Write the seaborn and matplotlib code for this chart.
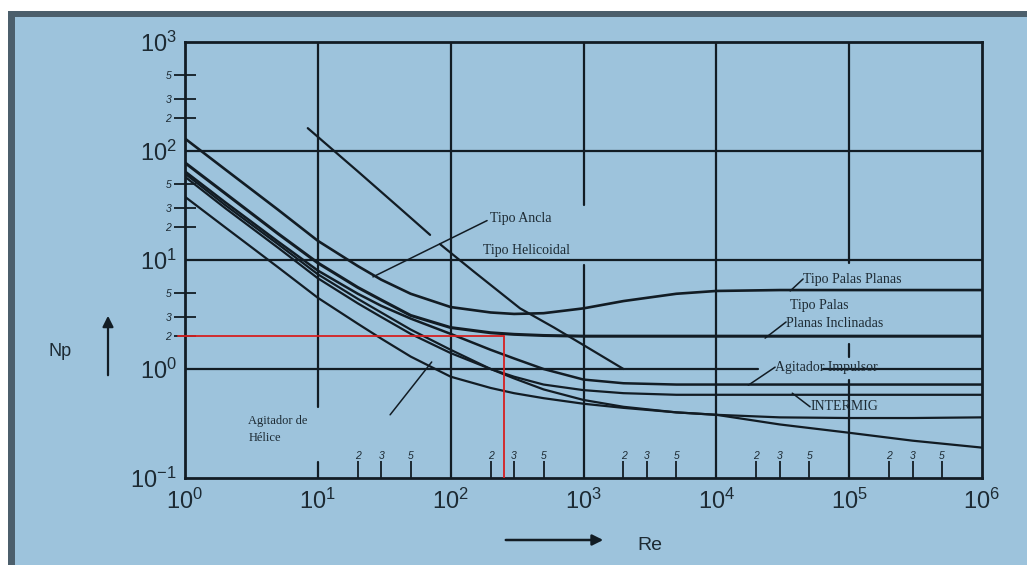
import numpy as np
import pandas as pd
import matplotlib
matplotlib.use("Agg")
import matplotlib.pyplot as plt
from matplotlib.patches import Rectangle
import seaborn as sns

# ---------------- data ----------------
re_pts = [1, 2, 5, 10, 20, 30, 50, 100, 200, 300, 500, 1e3, 2e3, 5e3, 1e4, 3e4, 1e5, 3e5, 1e6]

np_palas_planas = [130, 68, 29, 15, 8.8, 6.6, 4.9, 3.7, 3.3, 3.2, 3.25, 3.6, 4.2, 4.9, 5.2, 5.3, 5.3, 5.3, 5.3]
np_palas_inclinadas = [78, 41, 17.5, 9.4, 5.6, 4.3, 3.1, 2.4, 2.15, 2.08, 2.03, 2.0, 2.0, 2.0, 2.0, 2.0, 2.0, 2.0, 2.0]
np_impulsor = [65, 34, 14.8, 8.0, 4.9, 3.8, 2.9, 2.1, 1.5, 1.25, 1.0, 0.8, 0.74, 0.72, 0.72, 0.72, 0.72, 0.72, 0.72]
np_intermig = [58, 30, 13, 6.8, 4.0, 3.0, 2.1, 1.4, 1.0, 0.85, 0.72, 0.64, 0.60, 0.58, 0.58, 0.58, 0.58, 0.58, 0.58]
np_otro = [62, 32, 14, 7.4, 4.4, 3.3, 2.3, 1.5, 1.0, 0.82, 0.65, 0.52, 0.45, 0.40, 0.38, 0.36, 0.355, 0.355, 0.36]
np_helice = [38, 20, 8.6, 4.5, 2.6, 1.9, 1.3, 0.85, 0.67, 0.60, 0.54, 0.48, 0.44, 0.40, 0.38, 0.31, 0.26, 0.22, 0.19]

re_ancla_a = [8.4, 20, 40, 70]
np_ancla_a = [162, 65, 31, 17]
re_ancla_b = [83, 150, 333, 600, 1050, 2000]
np_ancla_b = [14, 7.8, 3.6, 2.4, 1.6, 1.0]

red_re = 250
red_np = 2.0

x_major = [1, 10, 100, 1e3, 1e4, 1e5, 1e6]
x_major_labels = [r"$10^{0}$", r"$10^{1}$", r"$10^{2}$", r"$10^{3}$", r"$10^{4}$", r"$10^{5}$", r"$10^{6}$"]
y_major = [0.1, 1, 10, 100, 1000]
y_major_labels = [r"$10^{-1}$", r"$10^{0}$", r"$10^{1}$", r"$10^{2}$", r"$10^{3}$"]
y_minor = [2, 3, 5, 20, 30, 50, 200, 300, 500]
y_minor_labels = ["2", "3", "5", "2", "3", "5", "2", "3", "5"]
x_minor = [20, 30, 50, 200, 300, 500, 2e3, 3e3, 5e3, 2e4, 3e4, 5e4, 2e5, 3e5, 5e5]
x_minor_labels = ["2", "3", "5"] * 5

# ---------------- styling ----------------
sns.set_style("ticks")
plt.rcParams["font.family"] = ["Liberation Sans", "DejaVu Sans"]
plt.rcParams["mathtext.fontset"] = "custom"
plt.rcParams["mathtext.rm"] = "Liberation Sans"
plt.rcParams["mathtext.it"] = "Liberation Sans"

BG = "#9dc3dc"
FRAME = "#4c5f6c"
INK = "#121c24"
TXT = "#1d2a33"

fig = plt.figure(figsize=(10.27, 5.65), dpi=100)
fig.patch.set_facecolor("white")
fig.patches.append(Rectangle((8 / 1027, 0), 1, 1 - 11 / 565, transform=fig.transFigure,
                             facecolor=BG, edgecolor="none", zorder=-10))
fig.patches.append(Rectangle((8 / 1027, 0), 7 / 1027, 1 - 11 / 565, transform=fig.transFigure,
                             facecolor=FRAME, edgecolor="none", zorder=-9))
fig.patches.append(Rectangle((8 / 1027, 1 - 17 / 565), 1, 6 / 565, transform=fig.transFigure,
                             facecolor=FRAME, edgecolor="none", zorder=-9))

ax = fig.add_axes([185 / 1027, 1 - 478 / 565, (982 - 185) / 1027, (478 - 42) / 565])
ax.set_facecolor("none")
ax.set_xscale("log")
ax.set_yscale("log")
ax.set_xlim(1, 1e6)
ax.set_ylim(0.1, 1000)

# grid lines (drawn as in the original, with gaps where labels sit)
gkw = dict(color=INK, lw=1.6, zorder=1)
ax.axhline(100, **gkw)
ax.axhline(10, **gkw)
ax.plot([1, 10 ** 4.31], [1, 1], **gkw)
ax.plot([10 ** 4.8, 1e6], [1, 1], **gkw)
ax.plot([10, 10], [0.45, 1000], **gkw)
ax.plot([10, 10], [0.1, 0.14], **gkw)
ax.axvline(100, **gkw)
ax.plot([1e3, 1e3], [32, 1000], **gkw)
ax.plot([1e3, 1e3], [0.1, 9], **gkw)
ax.axvline(1e4, **gkw)
ax.plot([1e5, 1e5], [9.4, 1000], **gkw)
ax.plot([1e5, 1e5], [1.3, 1.7], **gkw)
ax.plot([1e5, 1e5], [0.1, 0.79], **gkw)

# curves
curves = [
    (np_palas_planas, 1.9),
    (np_palas_inclinadas, 2.2),
    (np_impulsor, 1.8),
    (np_intermig, 1.6),
    (np_otro, 1.6),
    (np_helice, 1.6),
]
for vals, lw in curves:
    sns.lineplot(x=re_pts, y=vals, ax=ax, color=INK, lw=lw, sort=False, zorder=3)
sns.lineplot(x=re_ancla_a, y=np_ancla_a, ax=ax, color=INK, lw=1.6, sort=False, zorder=3)
sns.lineplot(x=re_ancla_b, y=np_ancla_b, ax=ax, color=INK, lw=1.6, sort=False, zorder=3)

# red reading lines
ax.plot([0.885, red_re], [red_np, red_np], color="#d62020", lw=1.3, clip_on=False, zorder=5)
ax.plot([red_re, red_re], [red_np, 0.1], color="#d62020", lw=1.3, zorder=5)

# spines and ticks
for s in ax.spines.values():
    s.set_color(INK)
    s.set_linewidth(2.0)
    s.set_visible(True)

ax.set_xticks(x_major)
ax.set_xticklabels(x_major_labels)
ax.set_yticks(y_major)
ax.set_yticklabels(y_major_labels)
ax.set_xticks(x_minor, minor=True)
ax.set_xticklabels([], minor=True)
ax.set_yticks(y_minor, minor=True)
ax.set_yticklabels(y_minor_labels, minor=True)
ax.tick_params(axis="x", which="major", length=0, pad=8, labelsize=17, labelcolor=TXT)
ax.tick_params(axis="y", which="major", length=0, pad=6, labelsize=17, labelcolor=TXT)
ax.tick_params(axis="x", which="minor", direction="in", length=12, width=1.3, color=INK)
ax.tick_params(axis="y", which="minor", direction="inout", length=16, width=1.3, color=INK,
               labelsize=7.5, labelcolor=TXT, pad=2)
for lbl in ax.get_yticklabels(minor=True):
    lbl.set_style("italic")
for xv, lab in zip(x_minor, x_minor_labels):
    ax.text(xv, 0.16, lab, fontsize=7.5, style="italic", color=TXT, ha="center", va="center")
ax.set_xlabel("")
ax.set_ylabel("")

# curve labels with leader lines
serif = ["Liberation Serif", "DejaVu Serif"]
lkw = dict(fontsize=10, color=TXT, family=serif, ha="left", va="center")
leader = dict(color=INK, lw=1.1)
ax.text(198, 24, "Tipo Ancla", **lkw)
ax.plot([26, 188], [7.0, 23], **leader)
ax.text(175, 12.3, "Tipo Helicoidal", **lkw)
ax.text(45000, 6.6, "Tipo Palas Planas", **lkw)
ax.plot([36000, 45000], [5.2, 6.7], **leader)
ax.text(36000, 3.8, "Tipo Palas", **lkw)
ax.text(33500, 2.64, "Planas Inclinadas", **lkw)
ax.plot([23300, 33500], [1.92, 2.7], **leader)
ax.text(27700, 1.04, "Agitador Impulsor", **lkw)
ax.plot([17400, 27700], [0.71, 1.04], **leader)
ax.text(50800, 0.45, "INTERMIG", **lkw)
ax.plot([37300, 50800], [0.60, 0.45], **leader)
ax.text(3.0, 0.333, "Agitador de", fontsize=9, color=TXT, family=serif, ha="left", va="center")
ax.text(3.0, 0.233, "Hélice", fontsize=9, color=TXT, family=serif, ha="left", va="center")
ax.plot([35, 72], [0.38, 1.16], **leader)

# axis names with arrows
fig.text(60 / 1027, 1 - 352 / 565, "Np", fontsize=13, color=TXT, ha="center", va="center")
ax.annotate("", xy=(108 / 1027, 1 - 313 / 565), xytext=(108 / 1027, 1 - 378 / 565),
            xycoords="figure fraction", textcoords="figure fraction",
            arrowprops=dict(arrowstyle="-|>", color=INK, lw=1.6, mutation_scale=16))
fig.text(650 / 1027, 1 - 546 / 565, "Re", fontsize=14, color=TXT, ha="center", va="center")
ax.annotate("", xy=(606 / 1027, 1 - 540 / 565), xytext=(503 / 1027, 1 - 540 / 565),
            xycoords="figure fraction", textcoords="figure fraction",
            arrowprops=dict(arrowstyle="-|>", color=INK, lw=1.8, mutation_scale=16))

fig.savefig("out.png", dpi=100, facecolor=fig.get_facecolor())
